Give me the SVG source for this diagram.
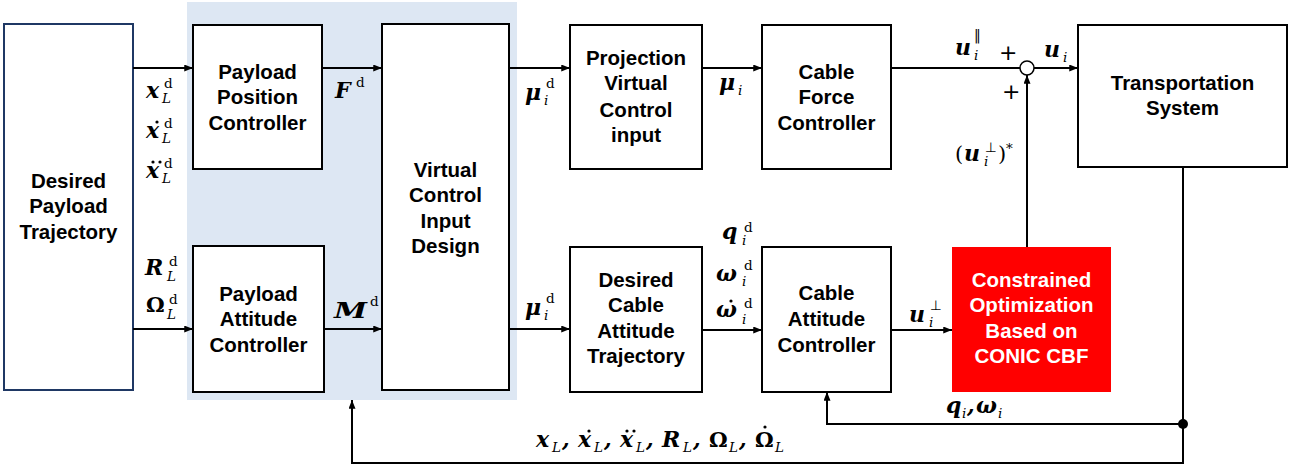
<svg xmlns="http://www.w3.org/2000/svg" width="1298" height="468" viewBox="0 0 1298 468">
<style>
.box{fill:#fff;stroke:#000;stroke-width:2}
.t{font-family:"Liberation Sans",Arial,sans-serif;font-weight:bold;font-size:20.5px;text-anchor:middle;fill:#000}
.w{fill:#fff}
.c{fill:none;stroke:#000;stroke-width:2}
.m{font-family:"DejaVu Serif","Liberation Serif",serif;font-weight:bold;font-style:italic;font-size:22px;fill:#000}
.mu{font-family:"DejaVu Serif","Liberation Serif",serif;font-weight:bold;font-size:21px;fill:#000}
.r{font-family:"DejaVu Serif","Liberation Serif",serif;font-size:21px;fill:#000}
.s{font-family:"DejaVu Serif","Liberation Serif",serif;font-style:italic;font-size:13.5px;fill:#000}
.d{font-family:"DejaVu Serif","Liberation Serif",serif;font-size:13.5px;fill:#000}
.y{font-family:"DejaVu Sans",sans-serif;font-size:13.5px;fill:#000}
.p{font-family:"DejaVu Sans",sans-serif;font-size:22px;fill:#000}
</style>
<defs>
<marker id="ah" viewBox="0 0 10 8" refX="10" refY="4" markerWidth="9" markerHeight="7" markerUnits="userSpaceOnUse" orient="auto">
<path d="M0,0 L10,4 L0,8 z" fill="#000"/>
</marker>
</defs>

<rect x="187" y="2" width="330" height="398" fill="#dde7f3"/>

<g id="n-desired"><rect x="4" y="24" width="129" height="366" fill="#fff" stroke="#1f3864" stroke-width="2"/>
<text class="t" x="68.5" y="188">Desired</text><text class="t" x="68.5" y="213">Payload</text><text class="t" x="68.5" y="239">Trajectory</text></g>

<g id="n-ppc"><rect class="box" x="193" y="25" width="129" height="144"/>
<text class="t" x="257.5" y="79">Payload</text><text class="t" x="257.5" y="104">Position</text><text class="t" x="257.5" y="130">Controller</text></g>

<g id="n-pac"><rect class="box" x="193" y="246" width="131" height="146"/>
<text class="t" x="258.5" y="301">Payload</text><text class="t" x="258.5" y="326">Attitude</text><text class="t" x="258.5" y="352">Controller</text></g>

<g id="n-vcid"><rect class="box" x="382" y="24" width="127" height="366"/>
<text class="t" x="445.5" y="177">Virtual</text><text class="t" x="445.5" y="202">Control</text><text class="t" x="445.5" y="228">Input</text><text class="t" x="445.5" y="253">Design</text></g>

<g id="n-proj"><rect class="box" x="570" y="25" width="132" height="144"/>
<text class="t" x="636" y="65">Projection</text><text class="t" x="636" y="90">Virtual</text><text class="t" x="636" y="117">Control</text><text class="t" x="636" y="142">input</text></g>

<g id="n-cfc"><rect class="box" x="762" y="25" width="129" height="144"/>
<text class="t" x="826.5" y="79">Cable</text><text class="t" x="826.5" y="104">Force</text><text class="t" x="826.5" y="130">Controller</text></g>

<g id="n-dcat"><rect class="box" x="570" y="247" width="132" height="145"/>
<text class="t" x="636" y="287">Desired</text><text class="t" x="636" y="312">Cable</text><text class="t" x="636" y="338">Attitude</text><text class="t" x="636" y="363">Trajectory</text></g>

<g id="n-cac"><rect class="box" x="762" y="247" width="129" height="145"/>
<text class="t" x="826.5" y="300">Cable</text><text class="t" x="826.5" y="326">Attitude</text><text class="t" x="826.5" y="352">Controller</text></g>

<g id="n-cbf"><rect x="952" y="247" width="159" height="145" fill="#ff0000"/>
<text class="t w" x="1031.5" y="287">Constrained</text><text class="t w" x="1031.5" y="312">Optimization</text><text class="t w" x="1031.5" y="338">Based on</text><text class="t w" x="1031.5" y="363">CONIC CBF</text></g>

<g id="n-ts"><rect class="box" x="1078" y="25" width="209" height="142"/>
<text class="t" x="1182.5" y="90">Transportation</text><text class="t" x="1182.5" y="115">System</text></g>

<g id="n-sum"><circle cx="1027" cy="68" r="7" fill="#fff" stroke="#000" stroke-width="1.5"/></g>

<g id="connectors">
<line class="c" x1="133" y1="68" x2="193" y2="68" marker-end="url(#ah)"/>
<line class="c" x1="133" y1="329" x2="193" y2="329" marker-end="url(#ah)"/>
<line class="c" x1="322" y1="68" x2="382" y2="68" marker-end="url(#ah)"/>
<line class="c" x1="324" y1="329" x2="382" y2="329" marker-end="url(#ah)"/>
<line class="c" x1="509" y1="68" x2="570" y2="68" marker-end="url(#ah)"/>
<line class="c" x1="509" y1="329" x2="570" y2="329" marker-end="url(#ah)"/>
<line class="c" x1="702" y1="68" x2="762" y2="68" marker-end="url(#ah)"/>
<line class="c" x1="702" y1="330" x2="762" y2="330" marker-end="url(#ah)"/>
<line class="c" x1="891" y1="330" x2="952" y2="330" marker-end="url(#ah)"/>
<line class="c" x1="891" y1="68" x2="1020" y2="68"/>
<line class="c" x1="1034" y1="68" x2="1078" y2="68" marker-end="url(#ah)"/>
<line class="c" x1="1027" y1="247" x2="1027" y2="75" marker-end="url(#ah)"/>
<polyline class="c" points="1183,167 1183,463 352,463 352,400" marker-end="url(#ah)"/>
<polyline class="c" points="1183,424 827,424 827,392" marker-end="url(#ah)"/>
<circle cx="1183" cy="424" r="5" fill="#000"/>
</g>

<g id="labels">
<text class="m" x="146" y="98">x</text><text class="d" x="164" y="88">d</text><text class="s" x="162" y="103">L</text>
<text class="m" x="146" y="138">x</text><circle cx="157" cy="122" r="1.6"/><text class="d" x="164" y="128">d</text><text class="s" x="162" y="143">L</text>
<text class="m" x="146" y="178">x</text><circle cx="153" cy="162" r="1.6"/><circle cx="160" cy="162" r="1.6"/><text class="d" x="164" y="168">d</text><text class="s" x="162" y="183">L</text>
<text class="m" x="145" y="275">R</text><text class="d" x="169" y="266">d</text><text class="s" x="167" y="281">L</text>
<text class="mu" x="146" y="312">Ω</text><text class="d" x="169" y="304">d</text><text class="s" x="167" y="319">L</text>
<text class="m" x="335" y="98">F</text><text class="d" x="356" y="87">d</text>
<text class="m" x="334" y="318" textLength="33" lengthAdjust="spacingAndGlyphs">M</text><text class="d" x="370" y="306">d</text>
<text class="m" x="525" y="100">μ</text><text class="d" x="546" y="88">d</text><text class="s" x="544" y="105">i</text>
<text class="m" x="525" y="315">μ</text><text class="d" x="546" y="303">d</text><text class="s" x="544" y="320">i</text>
<text class="m" x="719" y="90">μ</text><text class="s" x="738" y="95">i</text>
<text class="m" x="722" y="239">q</text><text class="d" x="744" y="232">d</text><text class="s" x="742" y="245">i</text>
<text class="m" x="716" y="281">ω</text><text class="d" x="744" y="270">d</text><text class="s" x="742" y="286">i</text>
<text class="m" x="716" y="317">ω</text><circle cx="731" cy="301" r="1.6"/><text class="d" x="744" y="308">d</text><text class="s" x="742" y="324">i</text>
<text class="m" x="909" y="322">u</text><text class="y" x="930" y="310">⊥</text><text class="s" x="929" y="327">i</text>
<text class="m" x="955" y="55">u</text><text class="y" x="974" y="40">‖</text><text class="s" x="974" y="60">i</text>
<text class="p" x="999" y="60">+</text>
<text class="m" x="1044" y="57">u</text><text class="s" x="1063" y="62">i</text>
<text class="p" x="1002" y="99">+</text>
<text class="r" x="955" y="161">(</text><text class="m" x="964" y="161">u</text><text class="y" x="985" y="152">⊥</text><text class="s" x="984" y="166">i</text><text class="r" x="998" y="161">)</text><text class="d" x="1006" y="153">*</text>
<text class="m" x="946" y="413">q</text><text class="s" x="962" y="418">i</text><text class="m" x="967" y="413">,</text><text class="m" x="976" y="413">ω</text><text class="s" x="998" y="418">i</text>
<text class="m" x="536" y="447">x</text><text class="s" x="552" y="452">L</text><text class="m" x="562" y="447">,</text>
<text class="m" x="578" y="447">x</text><circle cx="589" cy="431" r="1.6"/><text class="s" x="594" y="452">L</text><text class="m" x="604" y="447">,</text>
<text class="m" x="620" y="447">x</text><circle cx="627" cy="431" r="1.6"/><circle cx="634" cy="431" r="1.6"/><text class="s" x="636" y="452">L</text><text class="m" x="646" y="447">,</text>
<text class="m" x="662" y="447">R</text><text class="s" x="683" y="452">L</text><text class="m" x="693" y="447">,</text>
<text class="mu" x="709" y="447">Ω</text><text class="s" x="729" y="452">L</text><text class="m" x="739" y="447">,</text>
<text class="mu" x="755" y="447">Ω</text><circle cx="765" cy="427" r="1.6"/><text class="s" x="775" y="452">L</text>
</g>
</svg>
